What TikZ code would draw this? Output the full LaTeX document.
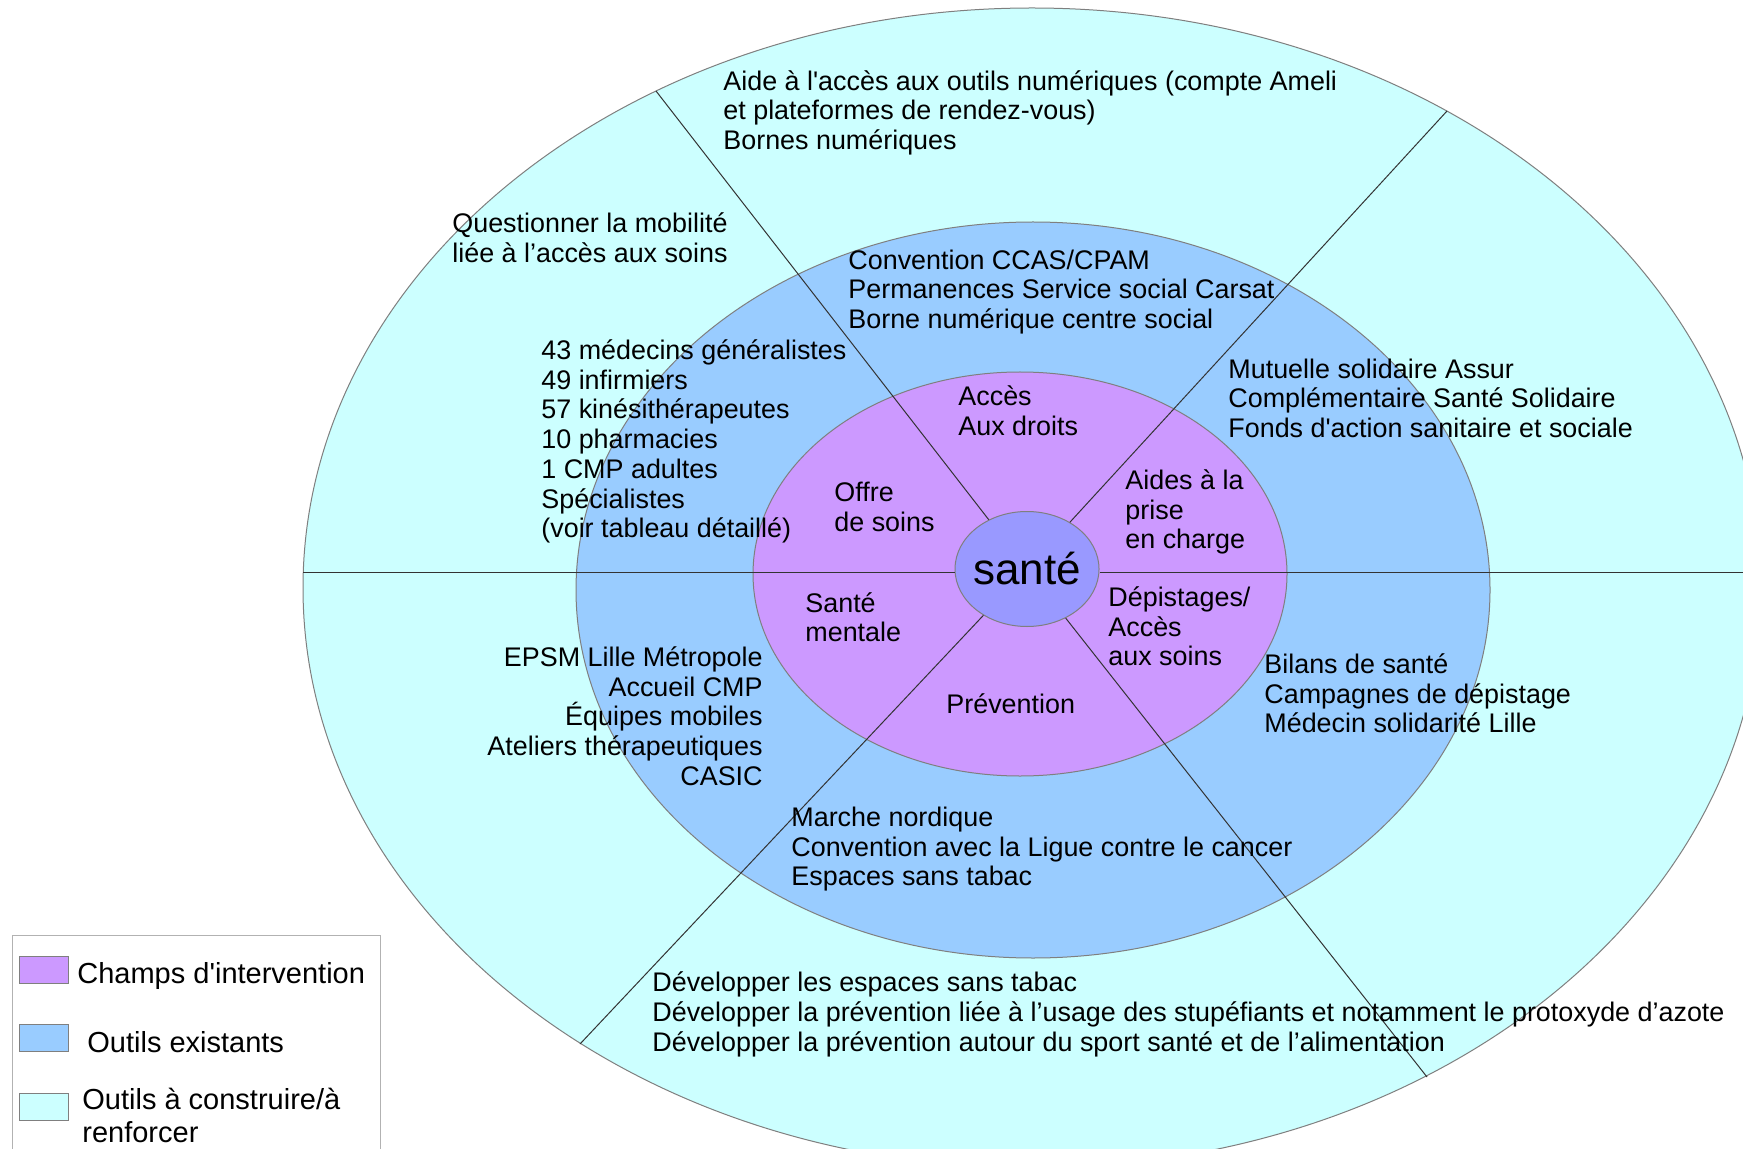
\documentclass[tikz,border=0pt]{standalone}
\usepackage{fontspec}
\setmainfont{Liberation Sans}
\usetikzlibrary{shapes.geometric}

\definecolor{aconstruire}{HTML}{CCFFFF}
\definecolor{existant}{HTML}{99CCFF}
\definecolor{champ}{HTML}{CC99FF}
\definecolor{coeur}{HTML}{9999FF}
\definecolor{trait}{HTML}{7F7F7F}

% base = ligne du bas du bloc
\tikzset{
  txt/.style={font=\fontsize{13.45}{14.85}\selectfont, inner sep=0pt, align=left, anchor=base west},
  txtd/.style={txt, align=right, anchor=base east},
  lgtxt/.style={font=\fontsize{14.5}{16.6}\selectfont, inner sep=0pt, align=left, anchor=base west},
  anneau/.style={draw=trait, line width=0.5pt},
  rayon/.style={draw=black!80, line width=0.5pt},
  pastille/.style={draw=trait, line width=0.5pt, minimum width=24.5pt, minimum height=13.5pt, inner sep=0pt, anchor=north west},
}

\begin{document}
\begin{tikzpicture}[x=0.5pt,y=0.5pt,yscale=-1,xscale=1]
\useasboundingbox (0,0) rectangle (1743,1149);

%Ellipses
\draw [anneau, fill=aconstruire] (1032,588) ellipse [x radius=729, y radius=580];
\draw [anneau, fill=existant] (1033,590) ellipse [x radius=457, y radius=368];
\draw [anneau, fill=champ] (1020,574) ellipse [x radius=267, y radius=202];

% centre
\draw (1027,569) node (sante) [ellipse, anneau, fill=coeur, minimum width=72pt, minimum height=57.5pt, inner sep=-2pt, font=\fontsize{22}{25}\selectfont] {santé};

% bouts des traits
\coordinate (bordO) at (303,572);
\coordinate (bordE) at (1760,572);
\coordinate (rayNO) at (656,91);
\coordinate (rayNE) at (1447,111);
\coordinate (raySO) at (580,1044);
\coordinate (raySE) at (1427,1077);

%Straight Lines
\draw [rayon] (bordO) -- (bordO -| sante.west);
\draw [rayon] (bordE -| sante.east) -- (bordE);
\draw [rayon] (sante) -- (rayNO);
\draw [rayon] (sante) -- (rayNE);
\draw [rayon] (sante) -- (raySO);
\draw [rayon] (sante) -- (raySE);

% Text Node
\draw (723,149.5) node (aide) [txt] {Aide à l\textquotesingle accès aux outils numériques (compte Ameli\\et plateformes de rendez-vous)\\Bornes numériques};
% Text Node
\draw (452,262.7) node (mobilite) [txt] {Questionner la mobilité\\liée à l’accès aux soins};
% Text Node
\draw (848,328.5) node (ccas) [txt] {Convention CCAS/CPAM\\Permanences Service social Carsat\\Borne numérique centre social};
% Text Node
\draw (541,537.7) node (offreliste) [txt] {43 médecins généralistes\\49 infirmiers\\57 kinésithérapeutes\\10 pharmacies\\1 CMP adultes\\Spécialistes\\(voir tableau détaillé)};
% Text Node
\draw (1228,437.5) node (mutuelle) [txt] {Mutuelle solidaire Assur\\Complémentaire Santé Solidaire\\Fonds d\textquotesingle action sanitaire et sociale};
% Text Node
\draw (958,435.7) node (acces) [txt] {Accès\\Aux droits};
% Text Node
\draw (834,531.2) node (offre) [txt] {Offre\\de soins};
% Text Node
\draw (1125,548.9) node (aides) [txt] {Aides à la\\prise\\en charge};
% Text Node
\draw (805,641.7) node (mentale) [txt] {Santé\\mentale};
% Text Node
\draw (1108,665.9) node (depist) [txt] {Dépistages/\\Accès\\aux soins};
% Text Node
\draw (946,713.5) node (prev) [txt] {Prévention};
% Text Node
\draw (763,785.3) node (epsm) [txtd] {EPSM Lille Métropole\\Accueil CMP\\Équipes mobiles\\Ateliers thérapeutiques\\CASIC};
% Text Node
\draw (1264,732.9) node (bilans) [txt] {Bilans de santé\\Campagnes de dépistage\\Médecin solidarité Lille};
% Text Node
\draw (791,885.9) node (marche) [txt] {Marche nordique\\Convention avec la Ligue contre le cancer\\Espaces sans tabac};
% Text Node
\draw (652,1051) node (dev) [txt] {Développer les espaces sans tabac\\Développer la prévention liée à l’usage des stupéfiants et notamment le protoxyde d’azote\\Développer la prévention autour du sport santé et de l’alimentation};

% Legende
\draw [draw=black!30, fill=white] (12,935) rectangle (380,1160);
\draw (19,956) node (pChamp) [pastille, fill=champ] {};
\draw (19,1024) node (pExist) [pastille, fill=existant] {};
\draw (19,1093) node (pConst) [pastille, fill=aconstruire] {};
\draw (77,983) node (lChamp) [lgtxt] {Champs d\textquotesingle intervention};
\draw (87,1052) node (lExist) [lgtxt] {Outils existants};
\draw (82,1142.2) node (lConst) [lgtxt] {Outils à construire/à\\renforcer};

\end{tikzpicture}
\end{document}
